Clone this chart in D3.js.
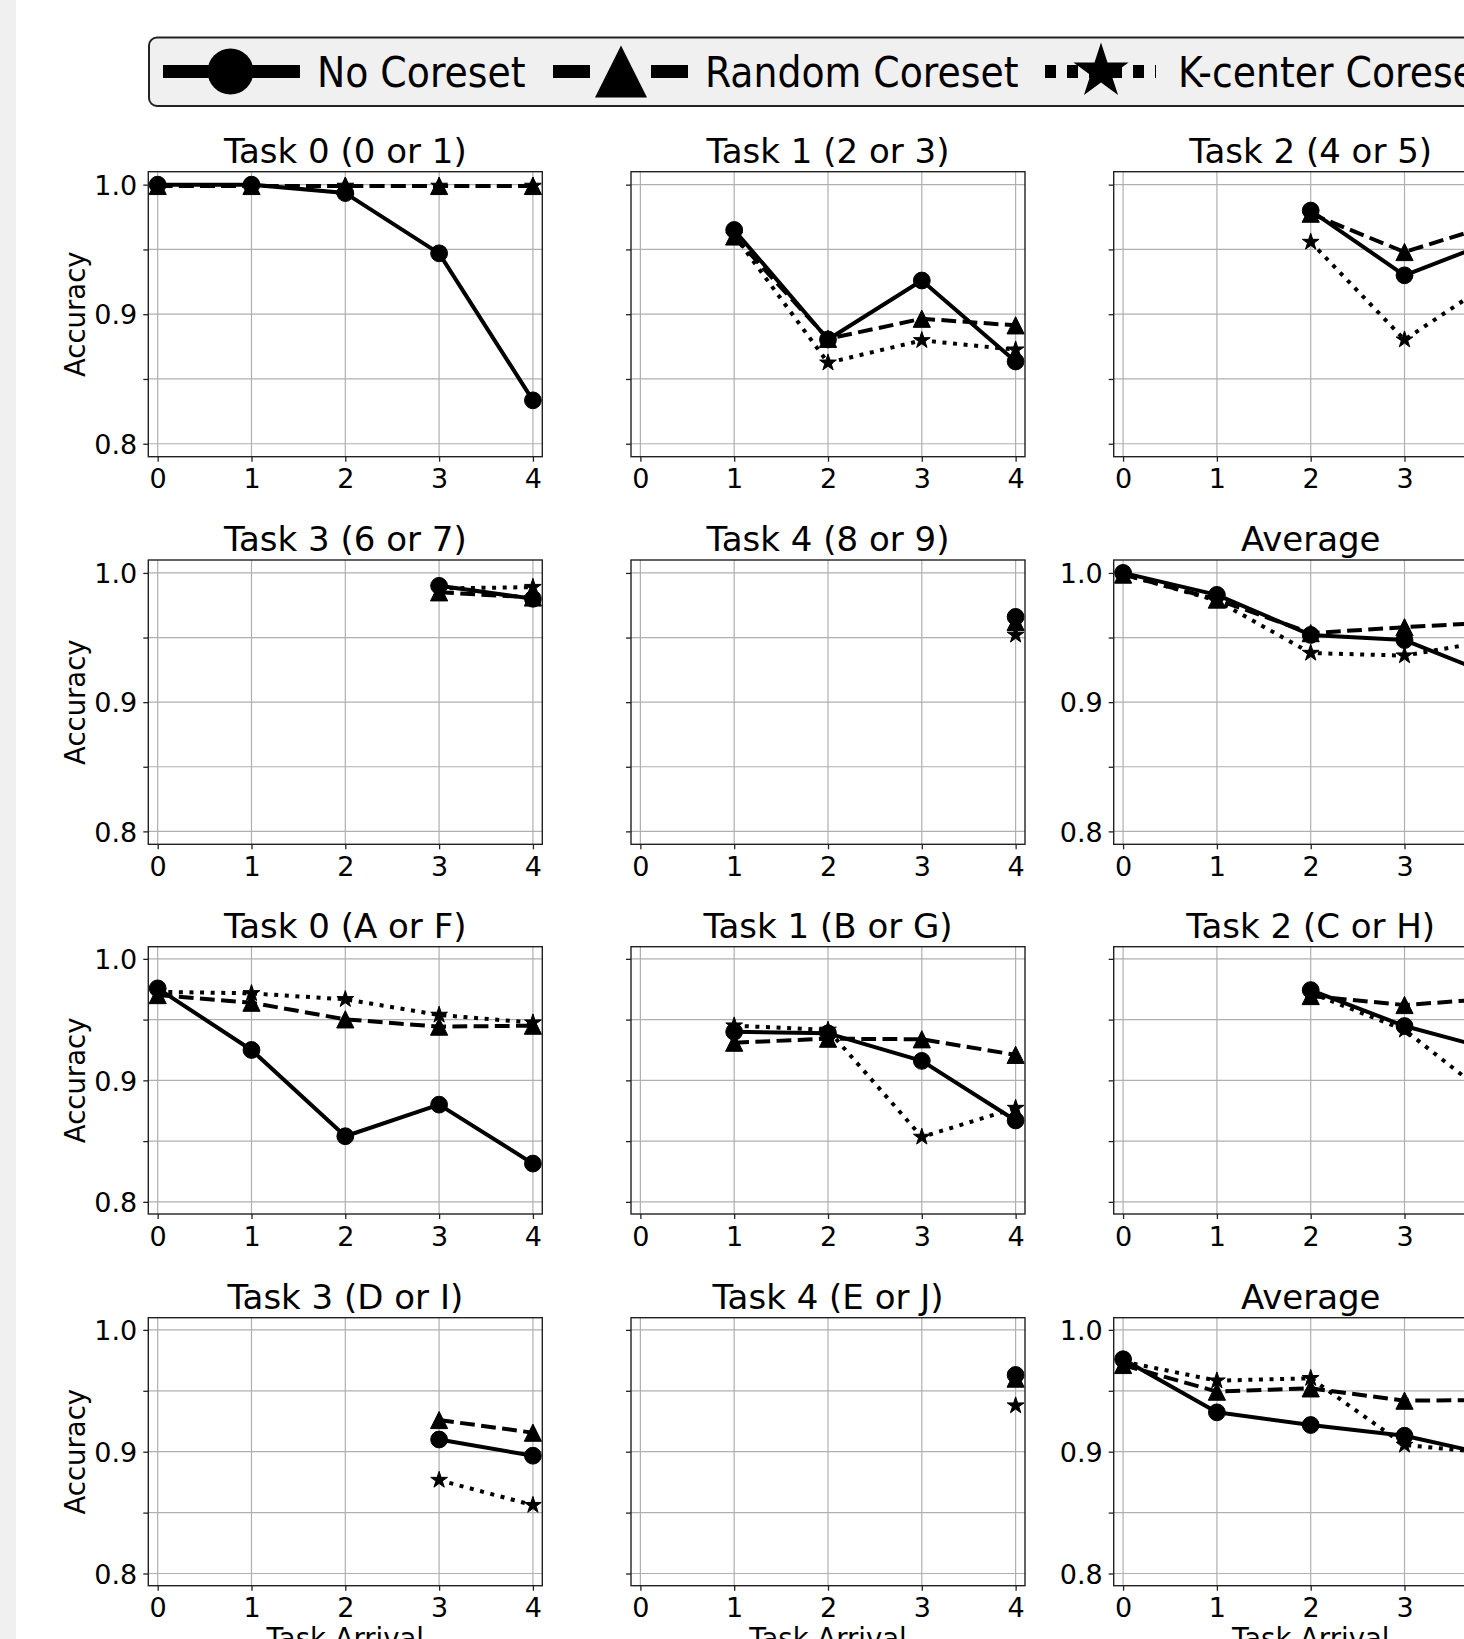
<!DOCTYPE html>
<html>
<head>
<meta charset="utf-8">
<script src="https://cdn.jsdelivr.net/npm/d3@7"></script>
<style>
  body { margin: 0; background: #fff; }
  svg { display: block; font-family: "DejaVu Sans", sans-serif; }
</style>
</head>
<body>
<div id="chart"></div>
<script>
// ---- data ----
const taskArrival = [0, 1, 2, 3, 4];
const seriesNames = ["No Coreset", "Random Coreset", "K-center Coreset"];
const panelTitles = [
    "Task 0 (0 or 1)", "Task 1 (2 or 3)", "Task 2 (4 or 5)",
    "Task 3 (6 or 7)", "Task 4 (8 or 9)", "Average",
    "Task 0 (A or F)", "Task 1 (B or G)", "Task 2 (C or H)",
    "Task 3 (D or I)", "Task 4 (E or J)", "Average"
];
const yTickValues = [0.8, 0.85, 0.9, 0.95, 1.0];
const yTickLabels = ["0.8", "", "0.9", "", "1.0"];
const xTickLabels = ["0", "1", "2", "3", "4"];

// one row per panel, null = task not yet seen
const noCoreset = [
    [1.0, 1.0, 0.9935, 0.947, 0.8335],
    [null, 0.965, 0.8805, 0.926, 0.8635],
    [null, null, 0.980, 0.930, 0.958],
    [null, null, null, 0.990, 0.980],
    [null, null, null, null, 0.966],
    [1.0, 0.983, 0.952, 0.948, 0.919],
    [0.9757, 0.925, 0.854, 0.880, 0.8315],
    [null, 0.940, 0.9387, 0.916, 0.867],
    [null, null, 0.9743, 0.9447, 0.924],
    [null, null, null, 0.910, 0.8967],
    [null, null, null, null, 0.963],
    [0.9759, 0.9323, 0.9219, 0.9131, 0.896]
];
const randomCoreset = [
    [0.999, 0.999, 0.999, 0.999, 0.999],
    [null, 0.960, 0.881, 0.8965, 0.8914],
    [null, null, 0.9776, 0.948, 0.9705],
    [null, null, null, 0.985, 0.981],
    [null, null, null, null, 0.962],
    [0.9987, 0.9794, 0.9534, 0.958, 0.962],
    [0.9702, 0.9639, 0.9502, 0.9442, 0.945],
    [null, 0.931, 0.9343, 0.9338, 0.921],
    [null, null, 0.9694, 0.962, 0.9676],
    [null, null, null, 0.926, 0.9156],
    [null, null, null, null, 0.960],
    [0.9712, 0.9493, 0.952, 0.9419, 0.9425]
];
const kcenterCoreset = [
    [0.999, 0.999, 0.999, 0.999, 0.999],
    [null, 0.961, 0.8625, 0.8798, 0.8726],
    [null, null, 0.9557, 0.8803, 0.9284],
    [null, null, null, 0.988, 0.989],
    [null, null, null, null, 0.952],
    [0.999, 0.9786, 0.938, 0.936, 0.9486],
    [0.9729, 0.9716, 0.9667, 0.9538, 0.9475],
    [null, 0.945, 0.9415, 0.8534, 0.8772],
    [null, null, 0.972, 0.9415, 0.881],
    [null, null, null, 0.8767, 0.8561],
    [null, null, null, null, 0.9378],
    [0.974, 0.9583, 0.9603, 0.9055, 0.8984]
];

// ---- layout ----
const W = 1464, H = 1639;
const COL_LEFT = [148.3, 631, 1113.7];
const AX_W = 394;
const ROW_TOP = [171.7, 560, 946.7, 1317.7];
const ROW_H = [285, 284.3, 267.3, 268];
const LW = 4;

const svg = d3.select("#chart").append("svg")
    .attr("width", W)
    .attr("height", H);

svg.append("rect").attr("width", W).attr("height", H).attr("fill", "#fff");
// grey strip on the left edge
svg.append("rect").attr("width", 16).attr("height", H).attr("fill", "#f0f0f0");

// marker shapes (centred like matplotlib markers)
function markerPath(kind, s) {
    if (kind === "circle") return d3.symbol(d3.symbolCircle, Math.PI * s * s)();
    if (kind === "triangle") return `M0,${-s}L${s},${s}L${-s},${s}Z`;
    return d3.symbol(d3.symbolStar, s * s / 0.8908130915292852)();
}

const seriesStyle = [
    { data: noCoreset, marker: "circle", size: 8.4, dash: null },
    { data: randomCoreset, marker: "triangle", size: 8.6, dash: `${3.7 * LW},${1.6 * LW}` },
    { data: kcenterCoreset, marker: "star", size: 8.8, dash: `${LW},${1.65 * LW}` }
];
// draw order: K-center, Random, then No Coreset on top
const drawOrder = [2, 1, 0];

const defs = svg.append("defs");

panelTitles.forEach((title, p) => {
    const row = Math.floor(p / 3), col = p % 3;
    const left = COL_LEFT[col], top = ROW_TOP[row], h = ROW_H[row];

    const x = d3.scaleLinear().domain([-0.1, 4.1]).range([0, AX_W]);
    const y = d3.scaleLinear().domain([0.79, 1.01]).range([h, 0]);

    const g = svg.append("g").attr("transform", `translate(${left},${top})`);

    defs.append("clipPath").attr("id", `clip${p}`)
        .append("rect").attr("width", AX_W).attr("height", h);

    // grid
    g.append("g").selectAll("line.vg").data(taskArrival).join("line")
        .attr("x1", d => x(d)).attr("x2", d => x(d))
        .attr("y1", 0).attr("y2", h)
        .attr("stroke", "#b0b0b0").attr("stroke-width", 1.2);
    g.append("g").selectAll("line.hg").data(yTickValues).join("line")
        .attr("x1", 0).attr("x2", AX_W)
        .attr("y1", d => y(d)).attr("y2", d => y(d))
        .attr("stroke", "#b0b0b0").attr("stroke-width", 1.2);

    // axes
    const showY = col === 0 || p === 5 || p === 11;
    const yAxis = d3.axisLeft(y).tickValues(yTickValues).tickSize(5).tickPadding(6)
        .tickFormat((d, i) => showY ? yTickLabels[i] : "");
    const xAxis = d3.axisBottom(x).tickValues(taskArrival).tickSize(5).tickPadding(6)
        .tickFormat((d, i) => xTickLabels[i]);

    const ya = g.append("g").call(yAxis);
    const xa = g.append("g").attr("transform", `translate(0,${h})`).call(xAxis);
    [ya, xa].forEach(a => {
        a.select(".domain").remove();
        a.selectAll(".tick line").attr("stroke", "#222").attr("stroke-width", 1.3);
        a.selectAll(".tick text").attr("font-size", 27).attr("fill", "#000")
            .attr("font-family", "DejaVu Sans");
    });
    ya.selectAll(".tick text").attr("dy", "0.36em");
    xa.selectAll(".tick text").attr("dy", "0.76em");

    // series
    const plot = g.append("g").attr("clip-path", `url(#clip${p})`);
    drawOrder.forEach(si => {
        const st = seriesStyle[si];
        const vals = taskArrival.map((t, i) => ({ t, v: st.data[p][i] }));
        const line = d3.line()
            .defined(d => d.v != null)
            .x(d => x(d.t))
            .y(d => y(d.v));
        plot.append("path")
            .attr("d", line(vals))
            .attr("fill", "none")
            .attr("stroke", "#000")
            .attr("stroke-width", LW)
            .attr("stroke-linejoin", "round")
            .attr("stroke-dasharray", st.dash);
        plot.selectAll(null).data(vals.filter(d => d.v != null)).join("path")
            .attr("transform", d => `translate(${x(d.t)},${y(d.v)})`)
            .attr("d", markerPath(st.marker, st.size))
            .attr("fill", "#000")
            .attr("stroke", "#000")
            .attr("stroke-width", 1);
    });

    // frame
    g.append("rect").attr("width", AX_W).attr("height", h)
        .attr("fill", "none").attr("stroke", "#222").attr("stroke-width", 1.4);

    // title
    g.append("text")
        .attr("x", AX_W / 2).attr("y", -9)
        .attr("text-anchor", "middle")
        .attr("font-size", 34)
        .text(title);

    if (col === 0) {
        g.append("text")
            .attr("transform", `translate(${75 - left},${h / 2}) rotate(-90)`)
            .attr("text-anchor", "middle")
            .attr("dy", "0.36em")
            .attr("font-size", 27.5)
            .text("Accuracy");
    }
    if (row === 3) {
        g.append("text")
            .attr("x", AX_W / 2).attr("y", h + 62.5)
            .attr("text-anchor", "middle")
            .attr("font-size", 27.5)
            .text("Task Arrival");
    }
});

// ---- legend ----
const leg = svg.append("g");
leg.append("rect")
    .attr("x", 149).attr("y", 37.5)
    .attr("width", 1400).attr("height", 68.5)
    .attr("rx", 8)
    .attr("fill", "#f0f0f0")
    .attr("stroke", "#222").attr("stroke-width", 2);

const legendItems = [
    { x1: 163, x2: 300, mx: 230.5, text: 317, dash: null, marker: "circle", size: 23, lw: 13 },
    { x1: 553, x2: 688, mx: 621, text: 705, dash: "37,61", marker: "triangle", size: 26, lw: 13 },
    { x1: 1045, x2: 1156, mx: 1101, text: 1178, dash: "11,11", marker: "star", size: 29, lw: 13 }
];
const LEG_Y = 71.5;
legendItems.forEach((it, i) => {
    leg.append("line")
        .attr("x1", it.x1).attr("x2", it.x2)
        .attr("y1", LEG_Y).attr("y2", LEG_Y)
        .attr("stroke", "#000").attr("stroke-width", it.lw)
        .attr("stroke-dasharray", it.dash);
    leg.append("path")
        .attr("transform", `translate(${it.mx},${LEG_Y})`)
        .attr("d", markerPath(it.marker, it.size))
        .attr("fill", "#000");
    leg.append("text")
        .attr("x", it.text).attr("y", 87.3)
        .attr("font-size", 42)
        .attr("font-family", "'DejaVu Sans Condensed', 'DejaVu Sans', sans-serif")
        .text(seriesNames[i]);
});
</script>
</body>
</html>
